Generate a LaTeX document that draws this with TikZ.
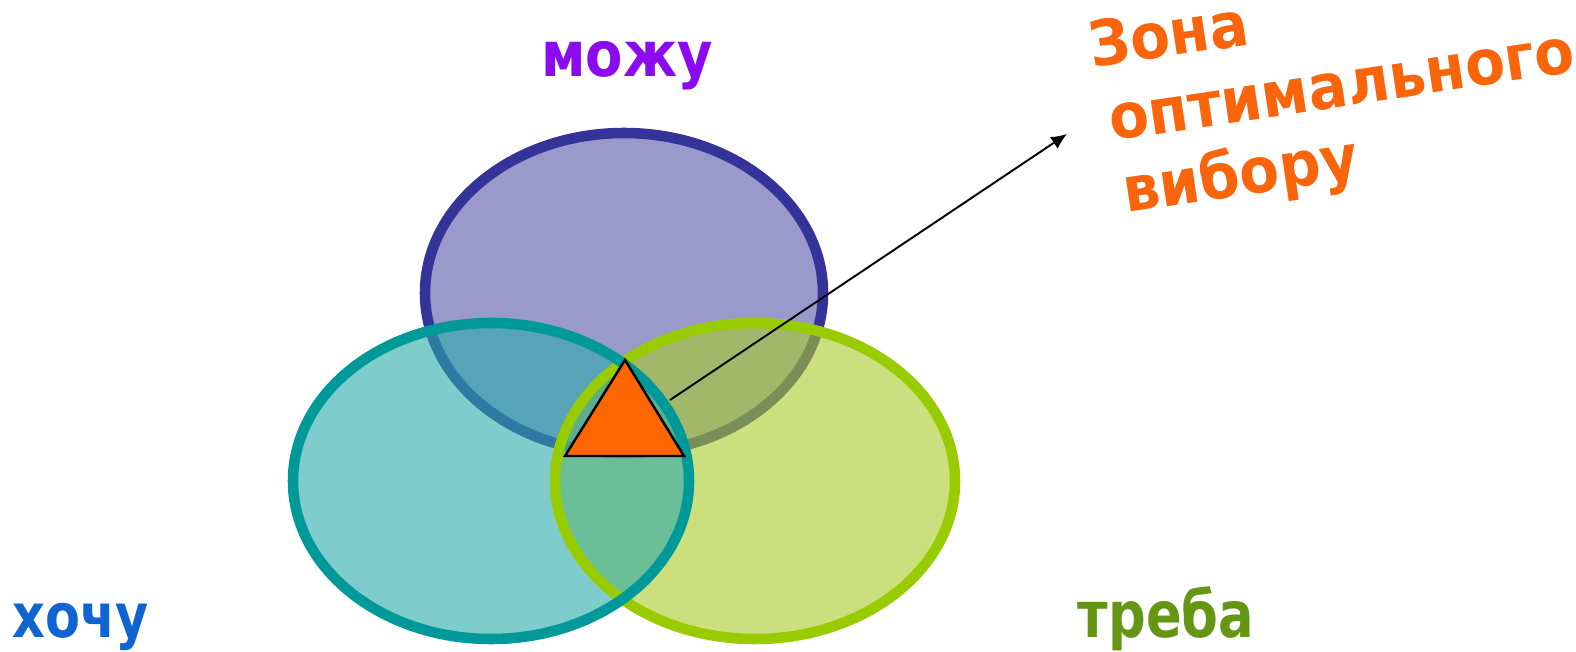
\documentclass[tikz,border=0pt]{standalone}
\usepackage{fontspec}
\setmainfont{DejaVu Sans}
\usetikzlibrary{arrows.meta}
\definecolor{topfill}{RGB}{85,85,170}
\definecolor{topline}{RGB}{51,51,153}
\definecolor{leftfill}{RGB}{43,170,170}
\definecolor{leftline}{RGB}{0,153,153}
\definecolor{rightfill}{RGB}{170,203,43}
\definecolor{rightline}{RGB}{153,204,0}
\definecolor{mozhucol}{RGB}{140,10,240}
\definecolor{khochucol}{RGB}{16,100,210}
\definecolor{trebacol}{RGB}{100,150,20}
\definecolor{zonecol}{RGB}{250,100,10}
\definecolor{tricol}{RGB}{255,102,0}
\tikzset{
  setring/.style={line width=6pt},
  setfill/.style={fill opacity=0.6},
  lbl/.style={font=\bfseries\fontsize{31}{36}\selectfont, inner sep=0pt, anchor=base},
  zonelbl/.style={font=\bfseries\fontsize{33}{40}\selectfont, text=zonecol, inner sep=0pt, anchor=base west, rotate=8.5},
}
\newcommand{\tallword}[2]{\scalebox{1}[#1]{#2}}
\begin{document}
\begin{tikzpicture}[x=0.02cm,y=-0.02cm]
\useasboundingbox (0,0) rectangle (1576,652);
\fill[white] (0,0) rectangle (1576,652);
% sets
\draw[setring, draw=topline, fill=topfill, setfill] (624,293) ellipse [x radius=199, y radius=160];
\fill[rightfill, setfill] (755,481) ellipse [x radius=200, y radius=158];
\fill[leftfill, setfill] (491,481) ellipse [x radius=198, y radius=158];
\draw[setring, draw=rightline] (755,481) ellipse [x radius=200, y radius=158];
\draw[setring, draw=leftline] (491,481) ellipse [x radius=198, y radius=158];
% triangle
\draw[fill=tricol, line width=1.4pt, line join=miter] (625,360) -- (684,456) -- (565,456) -- cycle;
% labels
\node[lbl, text=mozhucol] (mozhu) at (627,77) {\tallword{1.15}{можу}};
\node[lbl, text=khochucol, font=\bfseries\fontsize{29}{34}\selectfont] (khochu) at (81,637) {\tallword{1.2}{хочу}};
\node[lbl, text=trebacol, font=\bfseries\fontsize{30}{35}\selectfont] (treba) at (1166,637) {\tallword{1.22}{треба}};
\node[zonelbl] (zone1) at (1092,68) {\tallword{1.08}{Зона}};
\node[zonelbl] (zone2) at (1112,141) {\tallword{1.08}{оптимального}};
\node[zonelbl] (zone3) at (1126,213) {\tallword{1.08}{вибору}};
% arrow
\coordinate (start) at (670,400);
\coordinate (tip) at (1067,134);
\draw[-{Latex[length=9pt,width=8pt]}, line width=1.1pt] (start) -- (tip);
\end{tikzpicture}
\end{document}
